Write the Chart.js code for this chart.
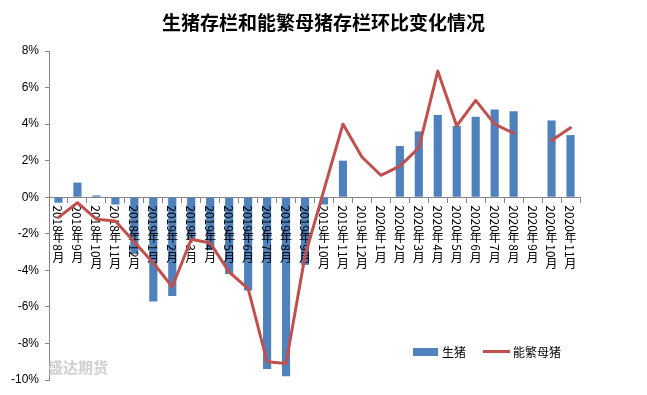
<!DOCTYPE html>
<html><head><meta charset="utf-8">
<script src="https://cdn.jsdelivr.net/npm/chart.js@4.4.0/dist/chart.umd.min.js"></script>
<style>html,body{margin:0;padding:0;background:#fff;}#wrap{width:647px;height:395px;}</style>
</head><body><div id="wrap"><canvas id="c" width="647" height="395"></canvas></div>
<script>
const titleText = '生猪存栏和能繁母猪存栏环比变化情况';
const categories = ['2018年8月','2018年9月','2018年10月','2018年11月','2018年12月',
  '2019年1月','2019年2月','2019年3月','2019年4月','2019年5月','2019年6月','2019年7月','2019年8月','2019年9月','2019年10月','2019年11月','2019年12月',
  '2020年1月','2020年2月','2020年3月','2020年4月','2020年5月','2020年6月','2020年7月','2020年8月','2020年9月','2020年10月','2020年11月'];
const hogValues = [-0.3, 0.8, 0.1, -0.4, -3.1,
  -5.7, -5.4, -2.3, -2.9, -4.2, -5.1, -9.4, -9.8, -3.7, -0.4, 2.0, null,
  null, 2.8, 3.6, 4.5, 3.9, 4.4, 4.8, 4.7, null, 4.2, 3.4];
const sowValues = [-1.1, -0.3, -1.2, -1.3, -2.45,
  -3.6, -4.9, -2.3, -2.5, -4.1, -5.0, -9.0, -9.1, -3.2, 0.4, 4.0, 2.2,
  1.2, 1.7, 2.7, 6.9, 3.9, 5.3, 4.0, 3.5, null, 3.1, 3.8];
const seriesNames = ['生猪', '能繁母猪'];
const yMin = -10, yMax = 8, yStep = 2;
const watermark = '盛达期货';

const barColor = '#4F81BD', lineColor = '#C0504D', axisColor = '#868686';
const labelFont = '12px "Noto Sans CJK SC", sans-serif';

function drawVertical(ctx, text, x, y) {
  for (const ch of text) {
    if (ch.charCodeAt(0) > 255) {
      ctx.textAlign = 'center'; ctx.textBaseline = 'top';
      ctx.fillText(ch, x, y);
      y += 12.5;
    } else {
      const w = ctx.measureText(ch).width;
      ctx.save(); ctx.translate(x, y); ctx.rotate(Math.PI / 2);
      ctx.textAlign = 'left'; ctx.textBaseline = 'middle';
      ctx.fillText(ch, 0, 0.5);
      ctx.restore();
      y += w;
    }
  }
}

const customPlugin = {
  id: 'custom',
  afterDatasetDraw(chart, args) {
    if (args.meta.type !== 'bar') return;
    const ctx = chart.ctx, xs = chart.scales.x, ys = chart.scales.y;
    const y0 = ys.getPixelForValue(0);
    ctx.save();
    ctx.font = labelFont; ctx.fillStyle = '#000';
    chart.data.labels.forEach((lab, i) => {
      drawVertical(ctx, lab, xs.getPixelForValue(i), y0 + 8);
    });
    ctx.restore();
  },
  afterDraw(chart) {
    const ctx = chart.ctx;
    ctx.save();
    // title
    ctx.font = 'bold 19px "Noto Sans CJK SC", sans-serif';
    ctx.fillStyle = '#000'; ctx.textAlign = 'center'; ctx.textBaseline = 'middle';
    ctx.fillText(titleText, 323.5, 22.5);
    // watermark
    ctx.font = 'bold 15px "Noto Sans CJK SC", sans-serif';
    ctx.fillStyle = '#d0d0d0'; ctx.textAlign = 'left'; ctx.textBaseline = 'middle';
    ctx.fillText(watermark, 48, 367);
    // legend
    ctx.font = labelFont;
    ctx.fillStyle = barColor; ctx.fillRect(413, 348, 25, 8);
    ctx.fillStyle = '#000';
    ctx.fillText(seriesNames[0], 442, 352);
    ctx.strokeStyle = lineColor; ctx.lineWidth = 3;
    ctx.beginPath(); ctx.moveTo(483, 351.5); ctx.lineTo(510, 351.5); ctx.stroke();
    ctx.fillText(seriesNames[1], 513, 352);
    ctx.restore();
  }
};

new Chart(document.getElementById('c'), {
  type: 'bar',
  data: {
    labels: categories,
    datasets: [
      { type: 'bar', label: seriesNames[0], data: hogValues, backgroundColor: barColor,
        barPercentage: 0.43, categoryPercentage: 1.0, order: 1 },
      { type: 'line', label: seriesNames[1], data: sowValues, borderColor: lineColor,
        borderWidth: 3, pointRadius: 0, tension: 0, spanGaps: false, borderJoinStyle: 'round',
        borderCapStyle: 'round', fill: false, order: 0 }
    ]
  },
  options: {
    responsive: false, animation: false, devicePixelRatio: 1,
    layout: { padding: { left: 0, right: 67, top: 51, bottom: 15 } },
    plugins: {
      legend: { display: false },
      tooltip: { enabled: false },
      title: { display: false }
    },
    scales: {
      x: {
        type: 'category', position: { y: 0 }, offset: true,
        grid: { display: true, drawOnChartArea: false, drawTicks: true, tickLength: 5, offset: true, color: axisColor },
        border: { display: true, color: axisColor, width: 1 },
        ticks: { display: false }
      },
      y: {
        min: yMin, max: yMax,
        ticks: { stepSize: yStep, color: '#000', padding: 6,
          font: { family: '"Liberation Sans", Arial, sans-serif', size: 12 },
          callback: v => v + '%' },
        grid: { drawOnChartArea: false, drawTicks: true, tickLength: 4, color: axisColor },
        border: { display: true, color: axisColor, width: 1 },
        afterFit: s => { s.width = 49; }
      }
    }
  },
  plugins: [customPlugin]
});
</script></body></html>
